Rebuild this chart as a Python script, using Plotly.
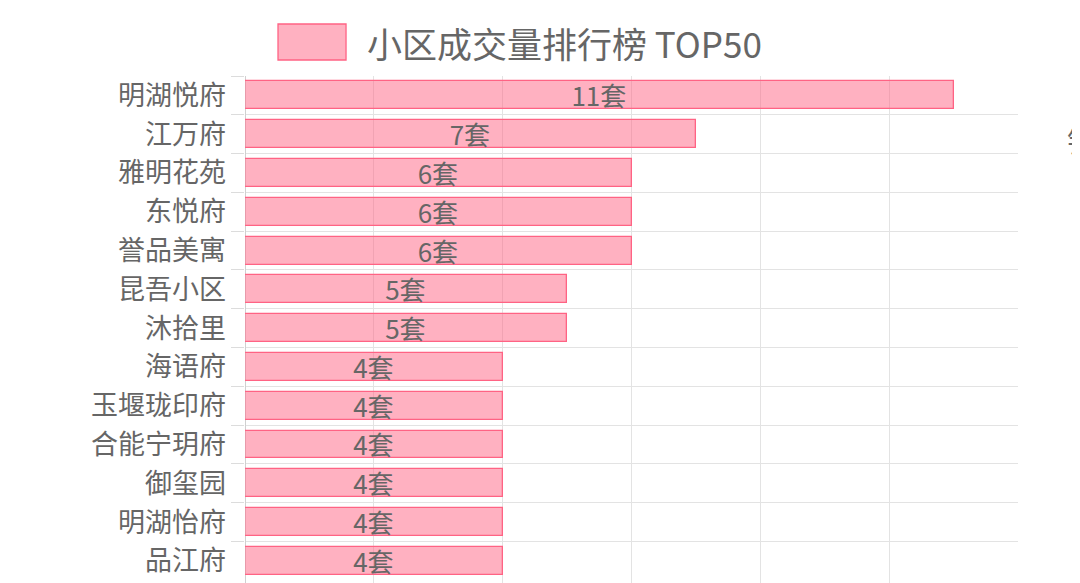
import plotly.graph_objects as go

# 小区成交量数据(图中可见部分)
communities = ['明湖悦府', '江万府', '雅明花苑', '东悦府', '誉品美寓', '昆吾小区', '沐拾里',
               '海语府', '玉堰珑印府', '合能宁玥府', '御玺园', '明湖怡府', '品江府']
deals = [11, 7, 6, 6, 6, 5, 5, 4, 4, 4, 4, 4, 4]
deal_labels = [f'{v}套' for v in deals]

legend_title = '小区成交量排行榜 TOP50'

font_family = 'Noto Sans CJK SC, Noto Sans, sans-serif'
grey = '#666666'

fig = go.Figure(go.Bar(
    x=deals,
    y=communities,
    orientation='h',
    width=0.72,
    text=deal_labels,
    textposition='inside',
    insidetextanchor='middle',
    constraintext='none',
    textfont=dict(size=26, color=grey, family=font_family),
    marker=dict(color='rgba(255,99,132,0.5)', line=dict(color='rgb(255,99,132)', width=1.3)),
    showlegend=False,
    hoverinfo='x+y',
))

# 页面 body 有 8px 的默认边距,这里扣掉
fig.update_layout(
    width=1072,
    height=575,
    margin=dict(l=237, r=62, t=68, b=0),
    paper_bgcolor='white',
    plot_bgcolor='white',
    font=dict(family=font_family, color=grey),
    xaxis=dict(
        range=[0, 12],
        dtick=2,
        showgrid=True,
        gridcolor='#e3e3e3',
        gridwidth=1,
        showticklabels=False,
        zeroline=True,
        zerolinecolor='#d0d0d0',
        zerolinewidth=1,
        showline=False,
    ),
    yaxis=dict(
        type='category',
        range=[12.57, -0.5],
        tickson='boundaries',
        ticks='outside',
        ticklen=13,
        tickcolor='#dcdcdc',
        ticklabelstandoff=18,
        showgrid=True,
        gridcolor='#e3e3e3',
        gridwidth=1,
        tickfont=dict(size=27, color=grey, family=font_family),
    ),
    bargap=0,
)

# 图例 (仿 Chart.js 样式)
fig.add_shape(
    type='rect', xref='paper', yref='paper',
    x0=0.0427, x1=0.1307, y0=1.0316, y1=1.1026,
    fillcolor='rgba(255,99,132,0.5)', line=dict(color='rgb(255,99,132)', width=1.3),
)
fig.add_annotation(
    text=legend_title, xref='paper', yref='paper', x=0.1552, y=1.067,
    xanchor='left', yanchor='middle', showarrow=False,
    font=dict(size=35, color=grey, family=font_family),
)
# 右侧被截断的文字
fig.add_annotation(
    text='销量', xref='paper', yref='paper', x=1.061, y=0.872,
    xanchor='left', yanchor='middle', showarrow=False,
    font=dict(size=28, color=grey, family=font_family),
)

fig.write_html('out.html')
